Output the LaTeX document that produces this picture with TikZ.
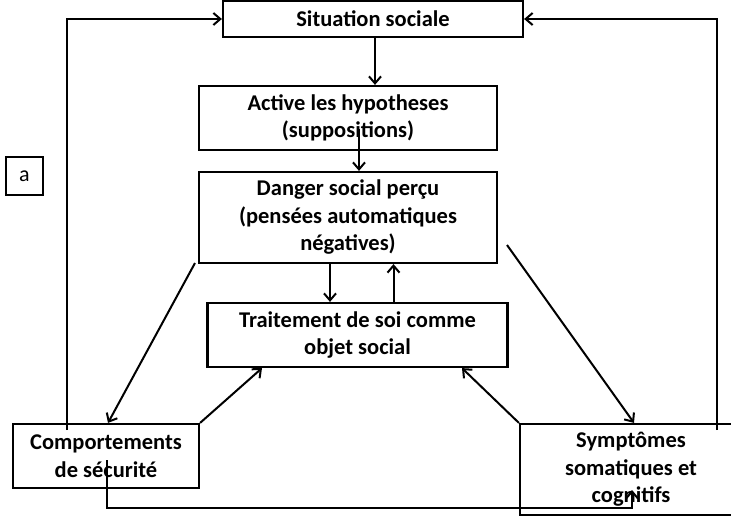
\documentclass[tikz,border=0pt]{standalone}
\usepackage{fontspec}
\setmainfont{Carlito}
\usetikzlibrary{arrows.meta}
\begin{document}
\begin{tikzpicture}[x=1pt,y=-1pt,
  box/.style={draw,line width=2.2pt,inner sep=0pt,align=center,
    font=\fontsize{22.5}{27.5}\selectfont\bfseries},
  conn/.style={line width=2pt},
  arr/.style={conn,-{Straight Barb[length=7pt,width=12pt,line width=2pt]}}]
\useasboundingbox (0,0) rectangle (731,517);

% boxes
\node[box,minimum width=300pt,minimum height=36pt] (sit) at (373,19) {Situation sociale};
\node[box,minimum width=298pt,minimum height=64pt] (active) at (348,118)
  {Active les hypotheses\\(suppositions)};
\node[box,minimum width=298pt,minimum height=91pt] (danger) at (348,217.5)
  {Danger social perçu\\(pensées automatiques\\négatives)};
\node[box,minimum width=300pt,minimum height=64pt] (trait) at (357.5,335)
  {Traitement de soi comme\\objet social};
\node[box,minimum width=186pt,minimum height=64pt] (comport) at (106,456)
  {Comportements\\de sécurité};
\node[box,minimum width=222pt,minimum height=91pt] (symp) at (631,469.5)
  {Symptômes\\somatiques et\\cognitifs};
\node[box,line width=1.6pt,font=\fontsize{22}{27}\selectfont,minimum width=37pt,minimum height=38pt]
  (lbl) at (24.5,176) {a};

% free ends of connectors
\coordinate (actout) at (359,129);
\coordinate (dangl) at (195,263);
\coordinate (dangr) at (507,245);
\coordinate (loopl) at (67,430);
\coordinate (loopr) at (717,430);
\coordinate (loopb) at (107,460);
\coordinate (loopbend) at (632,490);

% vertical chain
\draw[arr] ([xshift=2pt]sit.south) -- ([xshift=2pt]sit.south |- active.north);
\draw[arr] (actout) -- (actout |- danger.north);
\draw[arr] ([xshift=-18pt]danger.south) -- ([xshift=-18pt]danger.south |- trait.north);
\draw[arr] ([xshift=36pt]trait.north) -- ([xshift=36pt]trait.north |- danger.south);

% diagonals
\draw[arr] (dangl) -- ([xshift=2pt]comport.north);
\draw[arr] (dangr) -- ([xshift=3pt]symp.north);
\draw[arr] (comport.north east) -- ([xshift=-95.5pt]trait.south);
\draw[arr] (symp.north west) -- ([xshift=104.5pt]trait.south);

% feedback loops
\draw[arr] (loopl) |- (sit.west);
\draw[arr] (loopr) |- (sit.east);
\draw[arr] (loopb) -- (107,508) -| (loopbend);
\end{tikzpicture}
\end{document}
